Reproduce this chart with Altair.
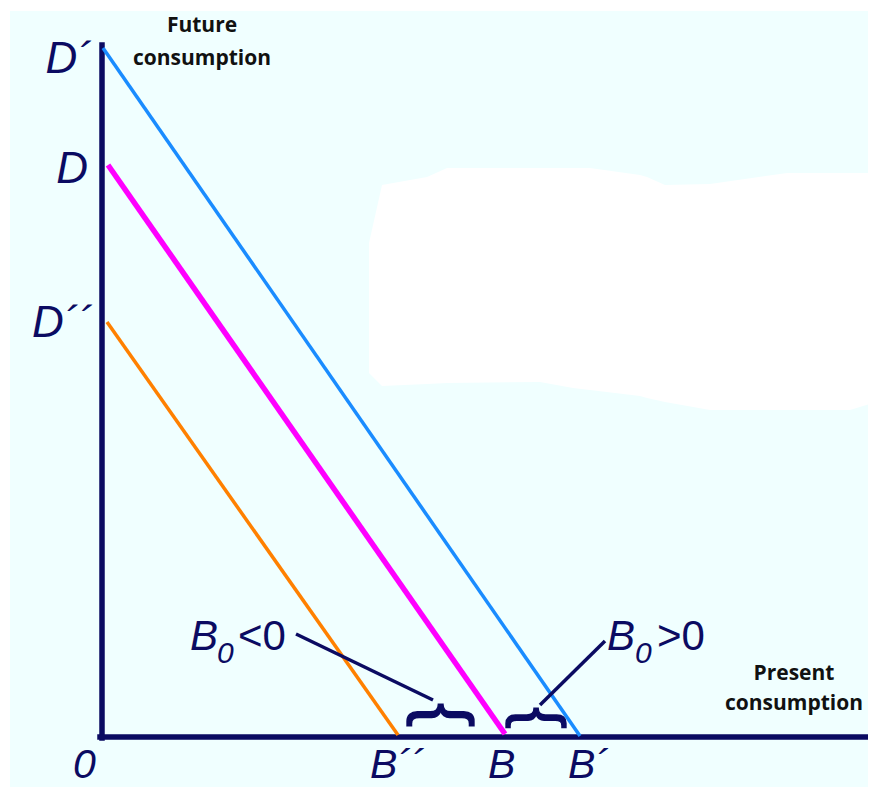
import altair as alt
import pandas as pd

NAVY = "#0b0b62"

# Budget lines (present consumption x, future consumption y)
line_names = ["D´B´", "DB", "D´´B´´"]
line_x0 = [1, 6, 5]
line_y0 = [689, 572, 415]
line_x1 = [478, 403, 296]
line_y1 = [1, 3, 2]
line_colors = ["#1a8cff", "#ff00ff", "#ff8000"]
line_widths = [3.5, 5.5, 3.5]

# Axes
axis_x0 = [0, -2]
axis_y0 = [-1, 0]
axis_x1 = [0, 774]
axis_y1 = [692, 0]

# Point labels
pt_text = ["D´", "D", "D´´"]
pt_x = [-10, -14, -9]
pt_y = [664, 554, 400]
bt_text = ["B´´", "B", "B´", "0"]
bt_x = [268, 386, 466, -29]
bt_y = [-41, -41, -41, -41]

# B0 annotations
b0_x = [88, 505]
b0_y = [87, 87]
sub_x = [115, 533]
sub_y = [74, 74]
rel_text = ["<0", ">0"]
rel_x = [136, 555]

# leader lines
lead_x0 = [194, 503]
lead_y0 = [103, 96]
lead_x1 = [331, 438]
lead_y1 = [37, 32]

# braces
brace_x = [342, 436]
brace_y = [22, 19]
brace_size = [72, 64]

# axis titles
title_text = ["Future", "consumption", "Present", "consumption"]
title_x = [100, 100, 692, 692]
title_y = [705, 672, 57, 27]

# background panel and white patch
panel_x = [-92]
panel_x2 = [774]
panel_y = [726]
panel_y2 = [-58]
patch_px = [369, 382, 427, 447, 540, 573, 590, 640, 647, 665, 710, 717, 787, 850, 876]
patch_top = [243, 185, 177, 168, 168, 168, 168, 175, 177, 185, 184, 183, 173, 173, 173]
patch_bot = [373, 386, 384, 383, 382, 388, 390, 396, 398, 402, 410, 410, 410, 410, 402]

X = alt.Scale(domain=[-94, 766], nice=False, zero=False)
Y = alt.Scale(domain=[-50, 729], nice=False, zero=False)


def xe(f):
    return alt.X(f, type="quantitative", scale=X, axis=None)


def ye(f):
    return alt.Y(f, type="quantitative", scale=Y, axis=None)


panel = alt.Chart(pd.DataFrame({"x": panel_x, "x2": panel_x2, "y": panel_y, "y2": panel_y2})).mark_rect(
    color="#f0ffff").encode(x=xe("x"), x2="x2", y=ye("y"), y2="y2")

patch_df = pd.DataFrame({
    "x": [p - 102 for p in patch_px],
    "top": [737 - p for p in patch_top],
    "bot": [737 - p for p in patch_bot],
})
patch = alt.Chart(patch_df).mark_area(color="white", opacity=1).encode(
    x=xe("x"), y=ye("top"), y2="bot")

axes = alt.Chart(pd.DataFrame({"x": axis_x0, "y": axis_y0, "x2": axis_x1, "y2": axis_y1})).mark_rule(
    color=NAVY, strokeWidth=5.5, strokeCap="square").encode(x=xe("x"), y=ye("y"), x2="x2", y2="y2")

line_df = pd.DataFrame({"name": line_names, "x": line_x0, "y": line_y0, "x2": line_x1, "y2": line_y1,
                        "c": line_colors, "w": line_widths})
budget = alt.Chart(line_df).mark_rule().encode(
    x=xe("x"), y=ye("y"), x2="x2", y2="y2",
    color=alt.Color("c:N", scale=None),
    strokeWidth=alt.StrokeWidth("w:Q", scale=None))

leads = alt.Chart(pd.DataFrame({"x": lead_x0, "y": lead_y0, "x2": lead_x1, "y2": lead_y1})).mark_rule(
    color=NAVY, strokeWidth=3.5).encode(x=xe("x"), y=ye("y"), x2="x2", y2="y2")

pt_labels = alt.Chart(pd.DataFrame({"t": pt_text, "x": pt_x, "y": pt_y})).mark_text(
    font="Liberation Sans", fontStyle="italic", fontSize=44, color=NAVY, align="right",
    baseline="alphabetic").encode(x=xe("x"), y=ye("y"), text="t:N")

bt_labels = alt.Chart(pd.DataFrame({"t": bt_text, "x": bt_x, "y": bt_y})).mark_text(
    font="Liberation Sans", fontStyle="italic", fontSize=41, color=NAVY, align="left",
    baseline="alphabetic").encode(x=xe("x"), y=ye("y"), text="t:N")

b0 = alt.Chart(pd.DataFrame({"t": ["B", "B"], "x": b0_x, "y": b0_y})).mark_text(
    font="Liberation Sans", fontStyle="italic", fontSize=42, color=NAVY, align="left",
    baseline="alphabetic").encode(x=xe("x"), y=ye("y"), text="t:N")
sub = alt.Chart(pd.DataFrame({"t": ["0", "0"], "x": sub_x, "y": sub_y})).mark_text(
    font="Liberation Sans", fontStyle="italic", fontSize=30, color=NAVY, align="left",
    baseline="alphabetic").encode(x=xe("x"), y=ye("y"), text="t:N")
rel = alt.Chart(pd.DataFrame({"t": rel_text, "x": rel_x, "y": b0_y})).mark_text(
    font="Liberation Sans", fontSize=42, color=NAVY, align="left",
    baseline="alphabetic").encode(x=xe("x"), y=ye("y"), text="t:N")

braces = alt.Chart(pd.DataFrame({"t": ["{", "{"], "x": brace_x, "y": brace_y, "s": brace_size})).mark_text(
    font="Liberation Sans", color=NAVY, stroke=NAVY, strokeWidth=1.4, angle=90, align="center",
    baseline="middle").encode(
    x=xe("x"), y=ye("y"), text="t:N", size=alt.Size("s:Q", scale=None))

titles = alt.Chart(pd.DataFrame({"t": title_text, "x": title_x, "y": title_y})).mark_text(
    font="Open Sans", fontWeight="bold", fontSize=21, color="#111111", align="center",
    baseline="alphabetic").encode(x=xe("x"), y=ye("y"), text="t:N")

chart = alt.layer(panel, patch, axes, budget, leads, pt_labels, bt_labels, b0, sub, rel, braces, titles).properties(
    width=860, height=779, padding=0, autosize=alt.AutoSizeParams(type="none"), background="white"
).configure_view(stroke=None)

chart.save("out.html", embed_options={"renderer": "svg", "actions": False})
